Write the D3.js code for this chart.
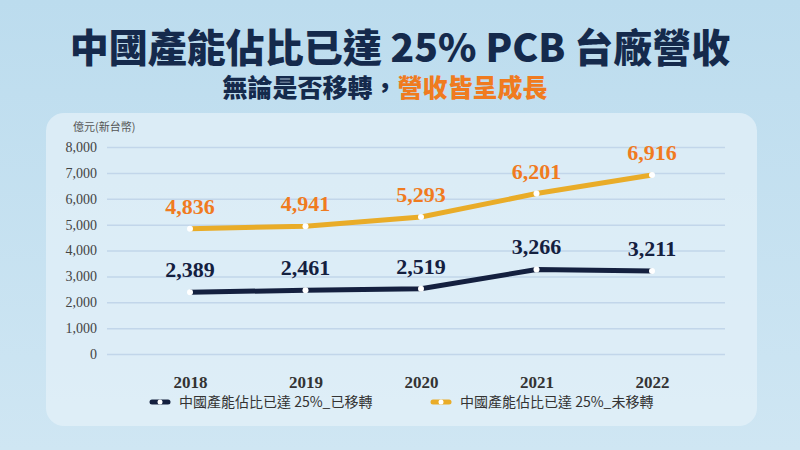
<!DOCTYPE html>
<html><head><meta charset="utf-8">
<script src="https://cdn.jsdelivr.net/npm/d3@7"></script>
<style>body{margin:0;}svg{display:block;}</style>
</head><body>
<svg id="chart" width="800" height="450"></svg>
<script>
var years = ["2018", "2019", "2020", "2021", "2022"];
var movedValues = [2389, 2461, 2519, 3266, 3211];
var notMovedValues = [4836, 4941, 5293, 6201, 6916];
var yTicks = [0, 1000, 2000, 3000, 4000, 5000, 6000, 7000, 8000];
var seriesNames = ["中國產能佔比已達 25%_已移轉", "中國產能佔比已達 25%_未移轉"];

var svg = d3.select("#chart");
var defs = svg.append("defs");
var bg = defs.append("linearGradient").attr("id", "bg").attr("x1", 0).attr("y1", 0).attr("x2", 0).attr("y2", 1);
bg.append("stop").attr("offset", "0").attr("stop-color", "#bcdcee");
bg.append("stop").attr("offset", "1").attr("stop-color", "#cfe6f3");
svg.append("rect").attr("width", 800).attr("height", 450).attr("fill", "url(#bg)");

// panel
svg.append("rect").attr("x", 46).attr("y", 113).attr("width", 711).attr("height", 313)
    .attr("rx", 18).attr("fill", "#e3f0f8").attr("opacity", 0.75);

// titles
svg.append("text").attr("x", 400).attr("y", 62).attr("text-anchor", "middle")
    .attr("font-family", "Noto Sans CJK TC").attr("font-weight", 900).attr("font-size", 39)
    .attr("fill", "#152a4c").text("中國產能佔比已達 25% PCB 台廠營收");
var sub = svg.append("text").attr("x", 385).attr("y", 97).attr("text-anchor", "middle")
    .attr("font-family", "Noto Sans CJK TC").attr("font-weight", 900).attr("font-size", 25);
sub.append("tspan").attr("fill", "#152a4c").text("無論是否移轉，");
sub.append("tspan").attr("fill", "#f07b1f").text("營收皆呈成長");

var x = d3.scalePoint().domain(years).range([190, 652]);
var y = d3.scaleLinear().domain([0, 8000]).range([354, 147]);

svg.append("text").attr("x", 73).attr("y", 131).attr("font-family", "Noto Sans CJK TC")
    .attr("font-size", 11).attr("fill", "#555").text("億元(新台幣)");

var yAxis = svg.append("g").attr("transform", "translate(107,0)")
    .call(d3.axisLeft(y).tickValues(yTicks).tickFormat(d3.format(",")).tickSize(-618).tickPadding(10));
yAxis.select(".domain").remove();
yAxis.selectAll("line").attr("stroke", "#c2d6ea").attr("stroke-width", 1.5);
yAxis.selectAll("text").style("font-family", "Liberation Serif").style("font-size", "14px").attr("fill", "#444");

var xAxis = svg.append("g").attr("transform", "translate(0,373)")
    .call(d3.axisBottom(x).tickSize(0));
xAxis.select(".domain").remove();
xAxis.selectAll("text").style("font-family", "Liberation Serif").style("font-weight", "bold")
    .style("font-size", "17px").attr("fill", "#333");

var series = [
    { values: movedValues, color: "#14203f", label: "#14203f" },
    { values: notMovedValues, color: "#e9ac28", label: "#f07b1f" }
];
var line = d3.line().x(function(d, i) { return x(years[i]); }).y(function(d) { return y(d); });
series.forEach(function(s) {
    svg.append("path").datum(s.values).attr("d", line).attr("fill", "none")
        .attr("stroke", s.color).attr("stroke-width", 5);
    svg.selectAll(null).data(s.values).enter().append("circle")
        .attr("cx", function(d, i) { return x(years[i]); }).attr("cy", function(d) { return y(d); })
        .attr("r", 3).attr("fill", "#fff");
    svg.selectAll(null).data(s.values).enter().append("text")
        .attr("x", function(d, i) { return x(years[i]); }).attr("y", function(d) { return y(d) - 15; })
        .attr("text-anchor", "middle").attr("font-family", "Liberation Serif").attr("font-weight", "bold")
        .attr("font-size", 22).attr("fill", s.label).text(d3.format(","));
});

// legend
var legX = [152, 433];
seriesNames.forEach(function(name, i) {
    var g = svg.append("g").attr("transform", "translate(" + legX[i] + ",402)");
    g.append("line").attr("x1", 0).attr("x2", 16).attr("stroke", series[i].color).attr("stroke-width", 5)
        .attr("stroke-linecap", "round");
    g.append("circle").attr("cx", 8).attr("r", 2.5).attr("fill", "#fff");
    g.append("text").attr("x", 27).attr("y", 5).attr("font-family", "Noto Sans CJK TC")
        .attr("font-size", 14).attr("fill", "#333").text(name);
});
</script>
</body></html>
